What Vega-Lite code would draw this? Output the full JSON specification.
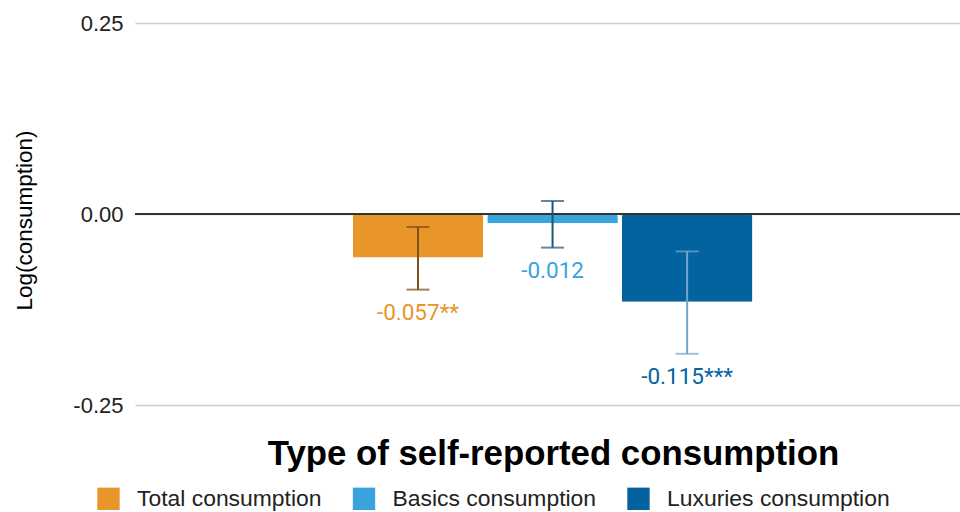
{
  "$schema": "https://vega.github.io/schema/vega-lite/v6.json",
  "width": 825,
  "height": 382,
  "autosize": {"type": "none"},
  "padding": {"left": 135, "top": 23, "right": 0, "bottom": 107},
  "background": "white",
  "config": {"view": {"stroke": null}, "font": "Liberation Sans"},
  "data": {
    "values": [
      {"group": "All", "type": "Total consumption", "value": -0.057, "lo": -0.099, "hi": -0.017, "label": "-0.057**"},
      {"group": "All", "type": "Basics consumption", "value": -0.012, "lo": -0.044, "hi": 0.017, "label": "-0.012"},
      {"group": "All", "type": "Luxuries consumption", "value": -0.115, "lo": -0.183, "hi": -0.049, "label": "-0.115***"}
    ]
  },
  "encoding": {
    "x": {
      "field": "group", "type": "nominal",
      "scale": {"paddingInner": 0, "paddingOuter": 0.521, "align": 0.512},
      "axis": {
        "labels": false, "ticks": false, "domain": false,
        "title": "Type of self-reported consumption",
        "titleFontSize": 34.8, "titleFontWeight": "bold", "titleColor": "#000",
        "titlePadding": 32, "titleX": 418
      }
    },
    "xOffset": {
      "field": "type", "type": "nominal",
      "sort": ["Total consumption", "Basics consumption", "Luxuries consumption"],
      "scale": {"paddingInner": 0.03, "paddingOuter": 0.016}
    }
  },
  "layer": [
    {
      "mark": {"type": "bar", "cornerRadiusEnd": 3},
      "encoding": {
        "y": {
          "field": "value", "type": "quantitative",
          "scale": {"domain": [-0.25, 0.25], "nice": false},
          "axis": {
            "values": [-0.25, 0, 0.25],
            "labelExpr": "datum.value < 0 ? '-' + format(-datum.value, '.2f') : format(datum.value, '.2f')",
            "title": "Log(consumption)", "titleFontSize": 22.5, "titleFontWeight": "normal",
            "titleColor": "#000", "titlePadding": 36, "titleY": 197,
            "labelFontSize": 22, "labelColor": "#222", "labelPadding": 12,
            "ticks": false, "domain": false,
            "grid": true, "gridColor": "#cccccc", "gridWidth": 1.5
          }
        },
        "fill": {
          "field": "type", "type": "nominal",
          "scale": {
            "domain": ["Total consumption", "Basics consumption", "Luxuries consumption"],
            "range": ["#E8952A", "#3AA2DD", "#02639E"]
          },
          "legend": {
            "orient": "none", "legendX": -38, "legendY": 464,
            "direction": "horizontal", "title": null,
            "symbolType": "square", "symbolSize": 500, "symbolStrokeWidth": 0,
            "labelFontSize": 22.9, "labelFont": "Liberation Sans", "labelColor": "#222",
            "labelOffset": 17, "columnPadding": 30.5, "padding": 0, "labelLimit": 400
          }
        }
      }
    },
    {
      "mark": {"type": "rule", "strokeWidth": 2, "color": "#333"},
      "encoding": {"x": null, "xOffset": null, "y": {"datum": 0}}
    },
    {
      "mark": {"type": "rule", "strokeWidth": 2},
      "encoding": {
        "y": {"field": "lo", "type": "quantitative"},
        "y2": {"field": "hi"},
        "color": {
          "field": "type", "type": "nominal",
          "scale": {
            "domain": ["Total consumption", "Basics consumption", "Luxuries consumption"],
            "range": ["#7E4F16", "#1E5575", "#74A6CC"]
          },
          "legend": null
        }
      }
    },
    {
      "mark": {"type": "tick", "size": 23, "thickness": 2},
      "encoding": {
        "y": {"field": "lo", "type": "quantitative"},
        "color": {"field": "type", "type": "nominal", "legend": null}
      }
    },
    {
      "mark": {"type": "tick", "size": 23, "thickness": 2},
      "encoding": {
        "y": {"field": "hi", "type": "quantitative"},
        "color": {"field": "type", "type": "nominal", "legend": null}
      }
    },
    {
      "mark": {"type": "text", "font": "Roboto", "fontSize": 22.5, "baseline": "middle", "dy": 23},
      "encoding": {
        "y": {"field": "lo", "type": "quantitative"},
        "text": {"field": "label"},
        "fill": {"field": "type", "type": "nominal", "legend": null}
      }
    }
  ]
}
